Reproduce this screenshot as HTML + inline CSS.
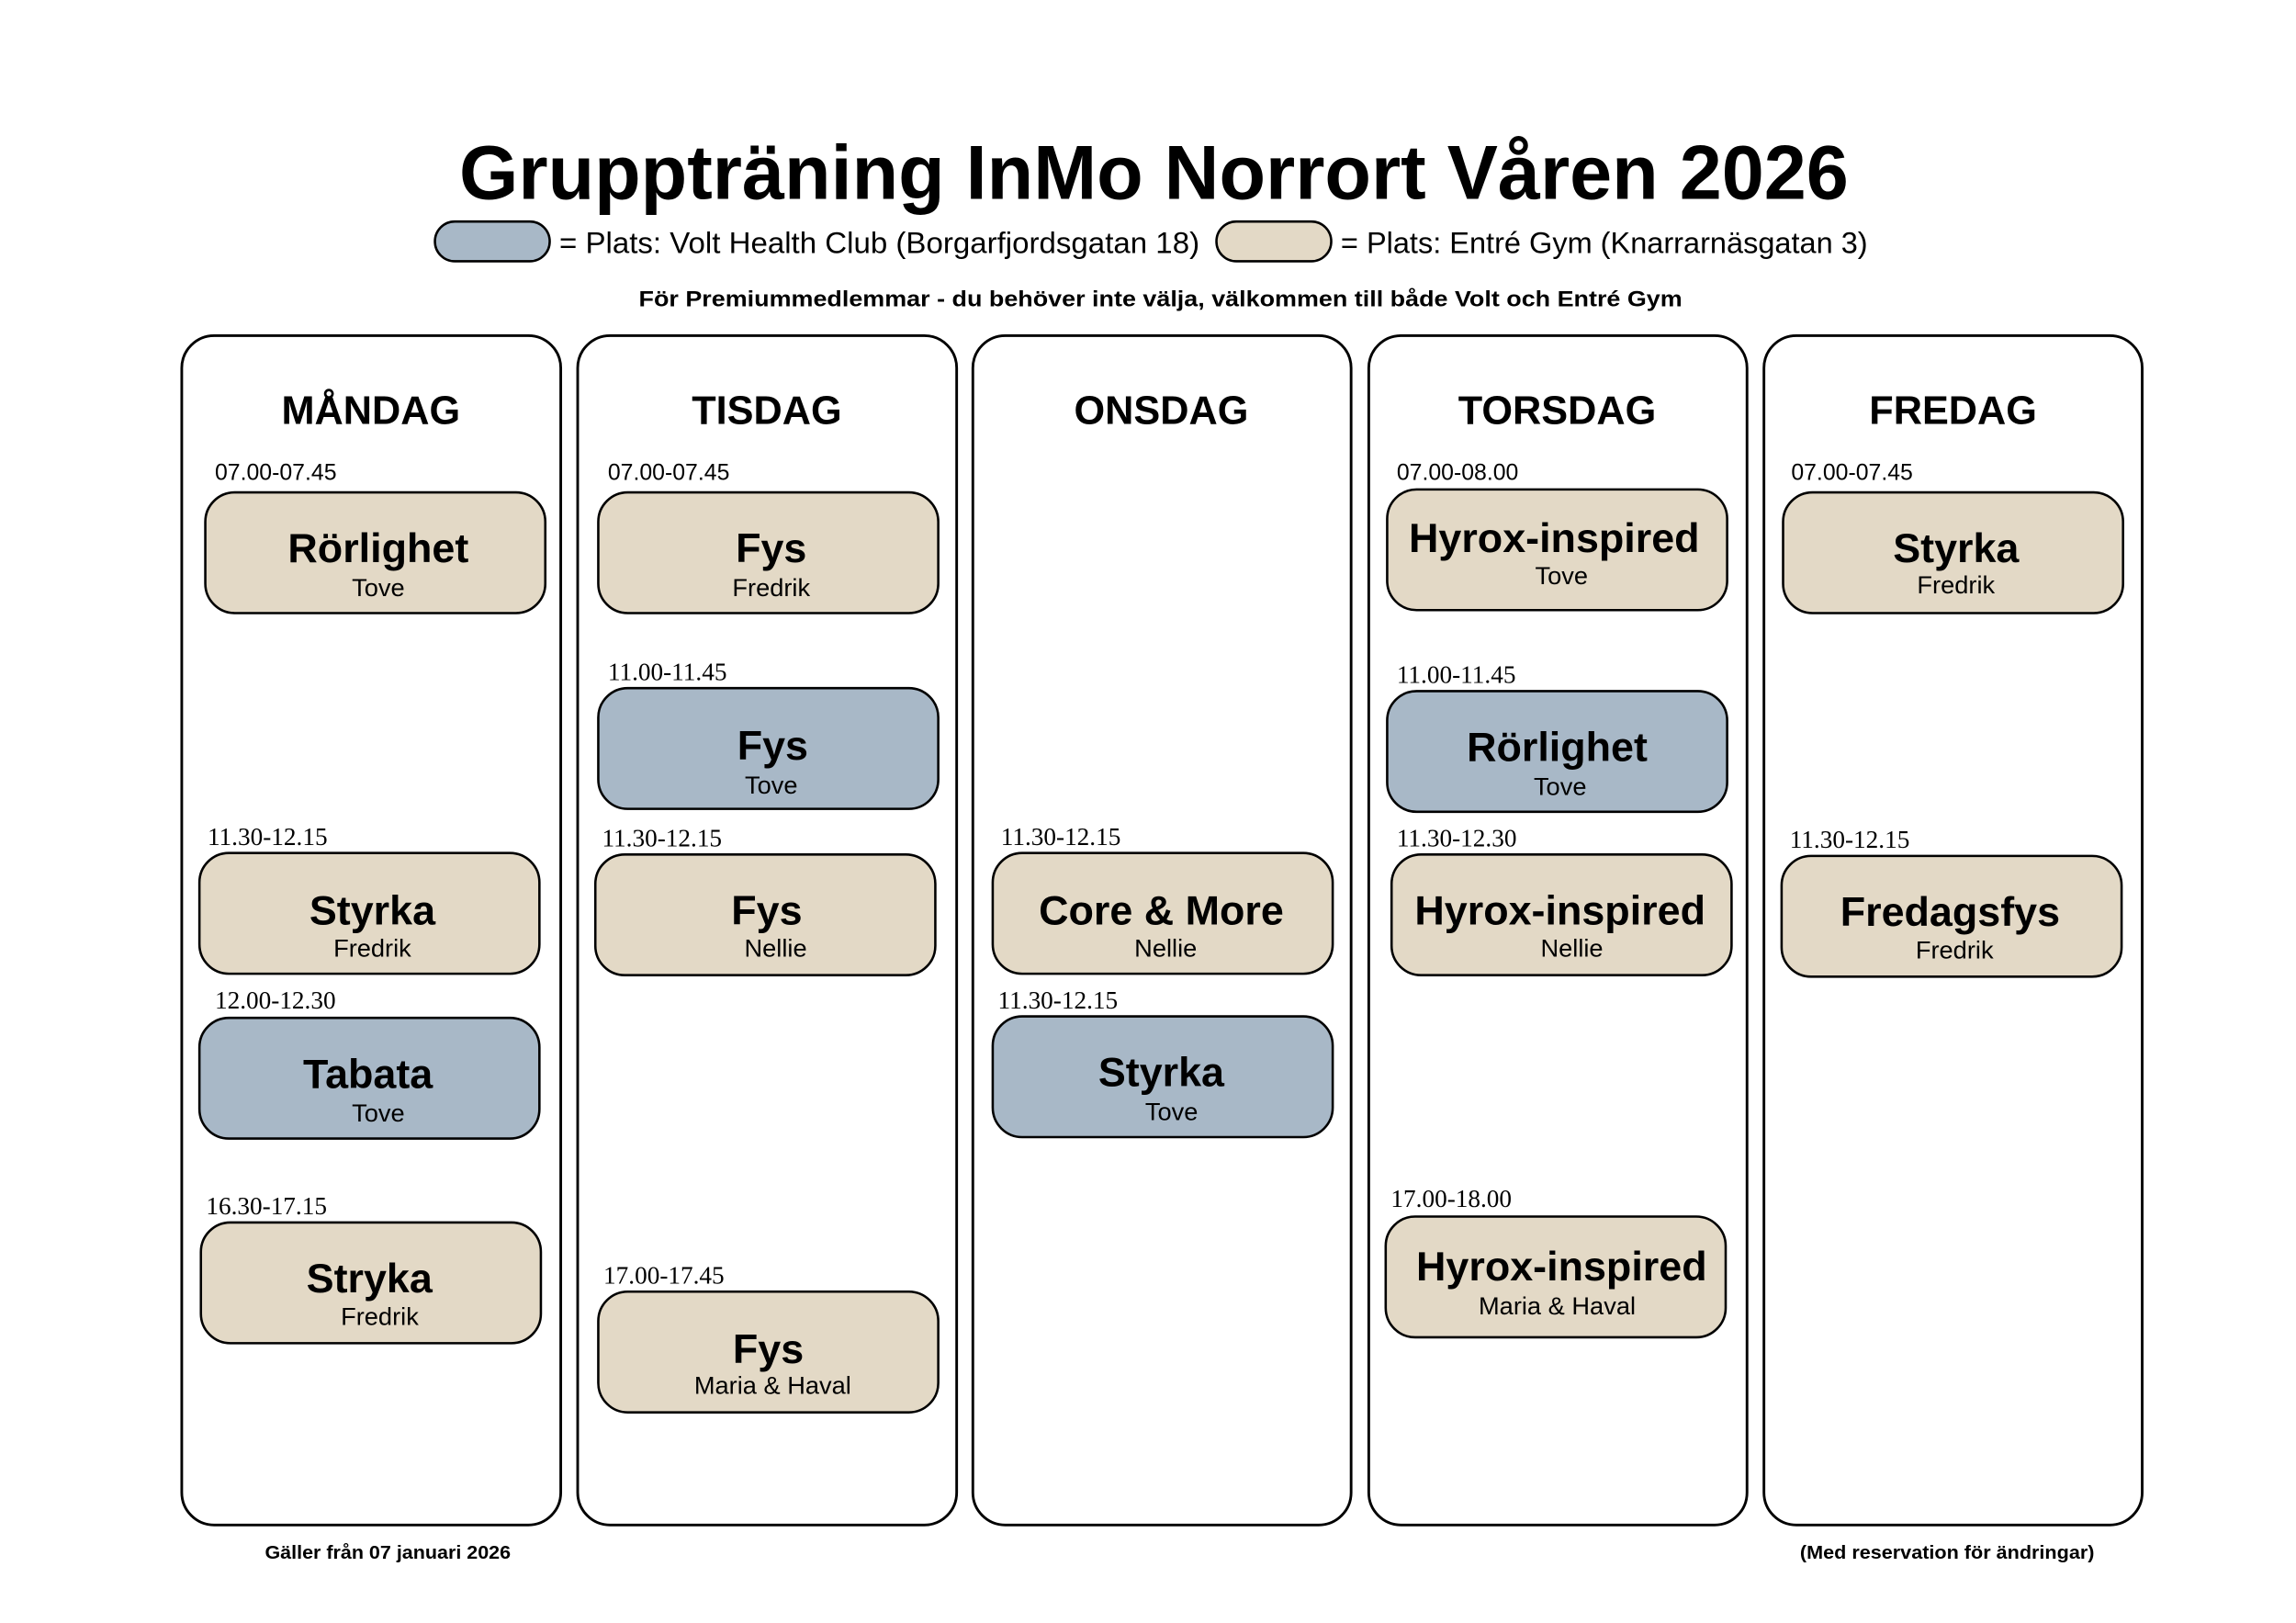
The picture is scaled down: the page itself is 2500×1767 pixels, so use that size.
<!DOCTYPE html>
<html><head><meta charset="utf-8"><style>
html,body{margin:0;padding:0;background:#fff;}
svg{display:block;}
text{font-family:"Liberation Sans",sans-serif;fill:#000;}
.t{font-weight:bold;font-size:28px;text-anchor:middle;}
.n{font-size:17px;text-anchor:middle;}
.ts{font-size:15.5px;}
.tf{font-family:"Liberation Serif",serif;font-size:17px;}
.d{font-weight:bold;font-size:27px;text-anchor:middle;}
.b{fill:#e3d9c6;stroke:#000;stroke-width:1.6;}
.v{fill:#a8b8c7;stroke:#000;stroke-width:1.6;}
.c{fill:#fff;stroke:#000;stroke-width:1.8;}
</style></head><body>
<svg width="2500" height="1767" viewBox="0 0 1560 1102.6" xmlns="http://www.w3.org/2000/svg">
<rect width="1560" height="1103" fill="#fff"/>
<text x="312" y="135" font-size="52" font-weight="bold" textLength="944" lengthAdjust="spacingAndGlyphs">Gruppträning InMo Norrort Våren 2026</text>
<rect x="295.5" y="150.5" width="78" height="27" rx="13.5" class="v"/>
<text x="380" y="172" font-size="20" textLength="435" lengthAdjust="spacingAndGlyphs">= Plats: Volt Health Club (Borgarfjordsgatan 18)</text>
<rect x="826.5" y="150.5" width="78" height="27" rx="13.5" class="b"/>
<text x="911" y="172" font-size="20" textLength="358" lengthAdjust="spacingAndGlyphs">= Plats: Entré Gym (Knarrarnäsgatan 3)</text>
<text x="434" y="208" font-size="15" font-weight="bold" textLength="709" lengthAdjust="spacingAndGlyphs">För Premiummedlemmar - du behöver inte välja, välkommen till både Volt och Entré Gym</text>

<rect x="123.5" y="228" width="257.5" height="808" rx="22" class="c"/>
<rect x="392.5" y="228" width="257.5" height="808" rx="22" class="c"/>
<rect x="661" y="228" width="257" height="808" rx="22" class="c"/>
<rect x="930" y="228" width="257" height="808" rx="22" class="c"/>
<rect x="1198.5" y="228" width="257" height="808" rx="22" class="c"/>

<text x="252" y="288" class="d">MÅNDAG</text>
<text x="521" y="288" class="d">TISDAG</text>
<text x="789" y="288" class="d">ONSDAG</text>
<text x="1058" y="288" class="d">TORSDAG</text>
<text x="1327" y="288" class="d">FREDAG</text>

<!-- Monday -->
<text x="146" y="326" class="ts">07.00-07.45</text>
<rect x="139.5" y="334.5" width="231" height="82" rx="20" class="b"/>
<text x="257" y="382" class="t">Rörlighet</text><text x="257" y="405" class="n">Tove</text>
<text x="141" y="574" class="tf">11.30-12.15</text>
<rect x="135.5" y="579.5" width="231" height="82" rx="20" class="b"/>
<text x="253" y="628" class="t">Styrka</text><text x="253" y="650" class="n">Fredrik</text>
<text x="146" y="685" class="tf">12.00-12.30</text>
<rect x="135.5" y="691.5" width="231" height="82" rx="20" class="v"/>
<text x="250" y="739" class="t">Tabata</text><text x="257" y="762" class="n">Tove</text>
<text x="140" y="825" class="tf">16.30-17.15</text>
<rect x="136.5" y="830.5" width="231" height="82" rx="20" class="b"/>
<text x="251" y="878" class="t">Stryka</text><text x="258" y="900" class="n">Fredrik</text>

<!-- Tuesday -->
<text x="413" y="326" class="ts">07.00-07.45</text>
<rect x="406.5" y="334.5" width="231" height="82" rx="20" class="b"/>
<text x="524" y="382" class="t">Fys</text><text x="524" y="405" class="n">Fredrik</text>
<text x="413" y="462" class="tf">11.00-11.45</text>
<rect x="406.5" y="467.5" width="231" height="82" rx="20" class="v"/>
<text x="525" y="516" class="t">Fys</text><text x="524" y="539" class="n">Tove</text>
<text x="409" y="575" class="tf">11.30-12.15</text>
<rect x="404.5" y="580.5" width="231" height="82" rx="20" class="b"/>
<text x="521" y="628" class="t">Fys</text><text x="527" y="650" class="n">Nellie</text>
<text x="410" y="872" class="tf">17.00-17.45</text>
<rect x="406.5" y="877.5" width="231" height="82" rx="20" class="b"/>
<text x="522" y="926" class="t">Fys</text><text x="525" y="947" class="n">Maria &amp; Haval</text>

<!-- Wednesday -->
<text x="680" y="574" class="tf">11.30-12.15</text>
<rect x="674.5" y="579.5" width="231" height="82" rx="20" class="b"/>
<text x="789" y="628" class="t">Core &amp; More</text><text x="792" y="650" class="n">Nellie</text>
<text x="678" y="685" class="tf">11.30-12.15</text>
<rect x="674.5" y="690.5" width="231" height="82" rx="20" class="v"/>
<text x="789" y="738" class="t">Styrka</text><text x="796" y="761" class="n">Tove</text>

<!-- Thursday -->
<text x="949" y="326" class="ts">07.00-08.00</text>
<rect x="942.5" y="332.5" width="231" height="82" rx="20" class="b"/>
<text x="1056" y="375" class="t">Hyrox-inspired</text><text x="1061" y="397" class="n">Tove</text>
<text x="949" y="464" class="tf">11.00-11.45</text>
<rect x="942.5" y="469.5" width="231" height="82" rx="20" class="v"/>
<text x="1058" y="517" class="t">Rörlighet</text><text x="1060" y="540" class="n">Tove</text>
<text x="949" y="575" class="tf">11.30-12.30</text>
<rect x="945.5" y="580.5" width="231" height="82" rx="20" class="b"/>
<text x="1060" y="628" class="t">Hyrox-inspired</text><text x="1068" y="650" class="n">Nellie</text>
<text x="945" y="820" class="tf">17.00-18.00</text>
<rect x="941.5" y="826.5" width="231" height="82" rx="20" class="b"/>
<text x="1061" y="870" class="t">Hyrox-inspired</text><text x="1058" y="893" class="n">Maria &amp; Haval</text>

<!-- Friday -->
<text x="1217" y="326" class="ts">07.00-07.45</text>
<rect x="1211.5" y="334.5" width="231" height="82" rx="20" class="b"/>
<text x="1329" y="382" class="t">Styrka</text><text x="1329" y="403" class="n">Fredrik</text>
<text x="1216" y="576" class="tf">11.30-12.15</text>
<rect x="1210.5" y="581.5" width="231" height="82" rx="20" class="b"/>
<text x="1325" y="629" class="t">Fredagsfys</text><text x="1328" y="651" class="n">Fredrik</text>

<text x="180" y="1059" font-size="12.5" font-weight="bold" textLength="167" lengthAdjust="spacingAndGlyphs">Gäller från 07 januari 2026</text>
<text x="1223" y="1059" font-size="12.5" font-weight="bold" textLength="200" lengthAdjust="spacingAndGlyphs">(Med reservation för ändringar)</text>
</svg>
</body></html>
